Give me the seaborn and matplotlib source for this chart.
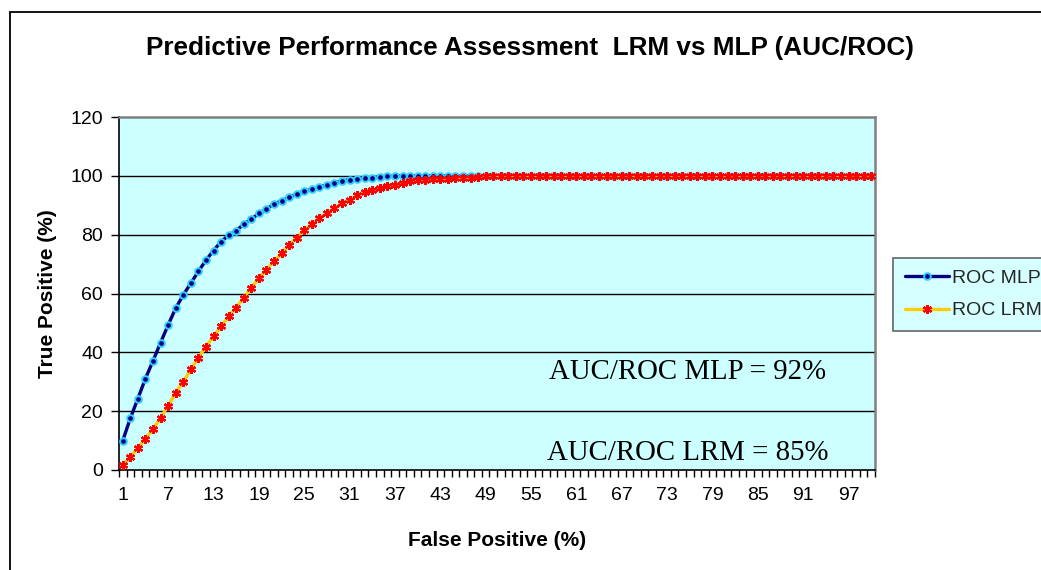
import matplotlib
matplotlib.use("Agg")
import matplotlib.pyplot as plt
import matplotlib.patches as mpatches
from matplotlib.lines import Line2D
import seaborn as sns
import pandas as pd

# ---- data ----
false_positive = list(range(1, 101))
roc_mlp = [10.0, 17.6, 24.3, 31.1, 37.1, 43.3, 49.3, 55.0, 59.5, 63.5,
           67.5, 71.3, 74.6, 77.6, 79.8, 81.3, 83.6, 85.3, 87.2, 88.7,
           90.4, 91.5, 92.7, 93.8, 94.8, 95.5, 96.3, 96.9, 97.7, 98.3,
           98.7, 98.9, 99.2, 99.4, 99.7, 99.8, 99.9, 100, 100, 100,
           100, 100, 100, 100, 100, 100, 100, 100, 100, 100,
           100, 100, 100, 100, 100, 100, 100, 100, 100, 100,
           100, 100, 100, 100, 100, 100, 100, 100, 100, 100,
           100, 100, 100, 100, 100, 100, 100, 100, 100, 100,
           100, 100, 100, 100, 100, 100, 100, 100, 100, 100,
           100, 100, 100, 100, 100, 100, 100, 100, 100, 100]
roc_lrm = [1.6, 4.5, 7.4, 10.7, 13.8, 17.8, 21.8, 26.3, 30.0, 34.2,
           38.2, 41.9, 45.4, 48.8, 52.2, 55.2, 58.6, 62.0, 65.1, 68.1,
           70.9, 73.7, 76.4, 79.0, 81.5, 83.6, 85.6, 87.3, 89.0, 90.7,
           91.9, 93.4, 94.5, 95.3, 95.8, 96.4, 96.8, 97.7, 98.3, 98.5,
           98.6, 98.9, 98.9, 98.9, 99.1, 99.1, 99.4, 99.5, 99.8, 100,
           100, 100, 100, 100, 100, 100, 100, 100, 100, 100,
           100, 100, 100, 100, 100, 100, 100, 100, 100, 100,
           100, 100, 100, 100, 100, 100, 100, 100, 100, 100,
           100, 100, 100, 100, 100, 100, 100, 100, 100, 100,
           100, 100, 100, 100, 100, 100, 100, 100, 100, 100]
series_names = ["ROC MLP", "ROC LRM"]
x_tick_labels = [str(v) for v in range(1, 101, 6)]
y_ticks = [0, 20, 40, 60, 80, 100, 120]
title = "Predictive Performance Assessment  LRM vs MLP (AUC/ROC)"
auc_texts = ["AUC/ROC MLP = 92%", "AUC/ROC LRM = 85%"]

df = pd.DataFrame({
    "fp": false_positive * 2,
    "tp": roc_mlp + roc_lrm,
    "series": [series_names[0]] * 100 + [series_names[1]] * 100,
})

sns.set_theme(style="white")
plt.rcParams["font.family"] = ["Liberation Sans", "DejaVu Sans"]

W, H = 1041, 570
fig = plt.figure(figsize=(W / 100, H / 100), dpi=100)
ax = fig.add_axes([119 / W, 1 - 470 / H, (875 - 119) / W, (470 - 117) / H])
ax.set_facecolor("#CCFFFF")

navy = "#000080"
cyan = "#33CCFF"
gold = "#FFCC00"
red = "#FF0000"

mlp_style = dict(color=navy, lw=2.4, marker="o", markersize=4.8,
                 markerfacecolor=navy, markeredgecolor=cyan, markeredgewidth=1.4)
lrm_style = dict(color=gold, lw=2.4, marker=(6, 2, 0), markersize=6.5,
                 markeredgecolor=red, markeredgewidth=1.6)

sns.lineplot(data=df[df.series == series_names[0]], x="fp", y="tp", ax=ax,
             legend=False, zorder=3, **mlp_style)
sns.lineplot(data=df[df.series == series_names[1]], x="fp", y="tp", ax=ax,
             legend=False, zorder=4, **lrm_style)

ax.set_xlim(0.5, 100.5)
ax.set_ylim(0, 120)
ax.set_yticks(y_ticks)
ax.set_yticklabels([str(v) for v in y_ticks], fontsize=14, color="black")
ax.set_xticks(list(range(1, 101, 6)))
ax.set_xticklabels(x_tick_labels, fontsize=14, color="black")
ax.set_xticks([i + 0.5 for i in range(0, 101)], minor=True)
ax.tick_params(axis="x", which="major", length=0, pad=12)
ax.tick_params(axis="x", which="minor", length=5, width=1, color="black", direction="out", bottom=True)
ax.tick_params(axis="y", which="major", length=5.5, width=1, color="black", direction="out", left=True, pad=6)

ax.grid(False)
for yv in y_ticks[1:-1]:
    ax.axhline(yv, color="black", lw=1, zorder=1)

for side in ["left", "bottom"]:
    ax.spines[side].set_color("black")
    ax.spines[side].set_linewidth(1.2)
for side in ["top", "right"]:
    ax.spines[side].set_color("#808080")
    ax.spines[side].set_linewidth(1.8)

ax.set_xlabel("False Positive (%)", fontsize=15, fontweight="bold", labelpad=20, color="black")
ax.set_ylabel("True Positive (%)", fontsize=15, fontweight="bold", labelpad=10, color="black")

fig.text(530 / W, 1 - 48 / H, title, ha="center", va="center",
         fontsize=18.8, fontweight="bold", color="black")

for txt, ypix in zip(auc_texts, [372, 453]):
    fig.text(688 / W, 1 - ypix / H, txt, ha="center", va="center",
             fontsize=20.8, family=["Liberation Serif", "DejaVu Serif"], color="black")

# outer chart-area border
fig.patches.append(mpatches.Rectangle((9.5 / W, -0.1), 2.0, 1 - 12 / H + 0.1,
                                      transform=fig.transFigure, fill=False,
                                      edgecolor="black", lw=1.3))

handles = [Line2D([], [], **mlp_style), Line2D([], [], **lrm_style)]
leg = fig.legend(handles, series_names, loc="upper left",
                 bbox_to_anchor=(893 / W, 1 - 258 / H), frameon=True,
                 fancybox=False, facecolor="#CCFFFF", edgecolor="#404040",
                 fontsize=14, handlelength=2.3, handletextpad=0.15,
                 borderpad=0.6, labelspacing=0.75, borderaxespad=0)
leg.get_frame().set_linewidth(1.2)

fig.savefig("out.png", dpi=100)
